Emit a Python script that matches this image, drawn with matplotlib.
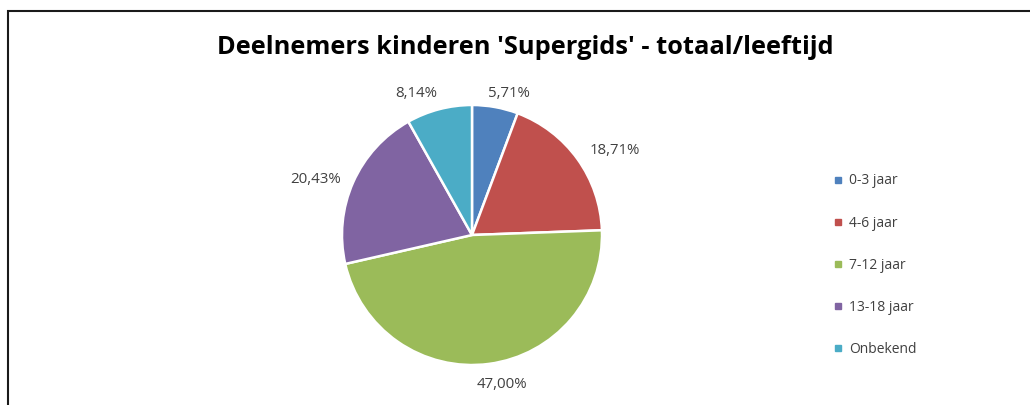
import numpy as np
import matplotlib
matplotlib.use('Agg')
import matplotlib.pyplot as plt
from matplotlib.lines import Line2D
from matplotlib.patches import Rectangle

categories = ['0-3 jaar', '4-6 jaar', '7-12 jaar', '13-18 jaar', 'Onbekend']
shares = [5.71, 18.71, 47.00, 20.43, 8.14]
colours = ['#4F81BD', '#C0504D', '#9BBB59', '#8064A2', '#4BACC6']
title = "Deelnemers kinderen 'Supergids' - totaal/leeftijd"

# Excel "best fit" label placement, nudge in pixels (right, down)
label_nudge = [(10, 8), (19, 4), (10, -1), (-17, 6), (-17, 6)]

plt.rcParams['font.family'] = ['Open Sans', 'DejaVu Sans']
txt = '#404040'

fig = plt.figure(figsize=(10.3, 4.05), dpi=100)

# chart frame (only left and top edge visible in the crop)
fig.patches.append(Rectangle((8 / 1030, -0.1), 1.2, (405 - 11) / 405 + 0.1,
                             transform=fig.transFigure, fill=False,
                             edgecolor='#1a1a1a', lw=1.5))

fig.text(525 / 1030, 1 - 48 / 405, title, ha='center', va='center',
         fontsize=18.3, fontweight='bold', color='black')

# pie axes: centre (472, 235), radius 130 px
R = 130
ax = fig.add_axes([(472 - 162.5) / 1030, (170 - 162.5) / 405, 325 / 1030, 325 / 405])
labels = [('%.2f%%' % v).replace('.', ',') for v in shares]
wedges, texts = ax.pie(shares, colors=colours, startangle=90, counterclock=False,
                       labels=labels, labeldistance=1.17,
                       wedgeprops=dict(edgecolor='white', linewidth=1.8),
                       textprops=dict(fontsize=10.8, color=txt))
ax.set_xlim(-1.25, 1.25)
ax.set_ylim(-1.25, 1.25)

for t, (dx, dy) in zip(texts, label_nudge):
    x, y = t.get_position()
    t.set_position((x + dx / R, y - dy / R))
    t.set_ha('center')
    t.set_va('center')

handles = [Line2D([], [], marker='s', ls='none', color=col, markersize=5)
           for col in colours]
leg = fig.legend(handles, categories, loc='upper left',
                 bbox_to_anchor=(821 / 1030, 1 - 161 / 405), frameon=False,
                 fontsize=10, labelspacing=1.95, handlelength=0.6,
                 handletextpad=0.5)
for t in leg.get_texts():
    t.set_color(txt)

fig.savefig('out.png', dpi=100)
plt.close()
